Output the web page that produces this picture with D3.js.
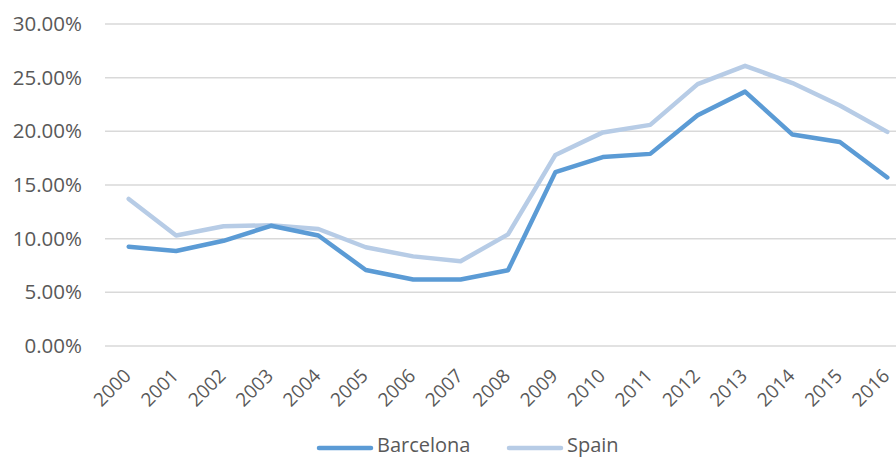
<!DOCTYPE html>
<html>
<head>
<meta charset="utf-8">
<script src="https://cdn.jsdelivr.net/npm/d3@7"></script>
<style>
body { margin: 0; background: #fff; }
text { font-family: "Open Sans", "Liberation Sans", sans-serif; fill: #595959; }
</style>
</head>
<body>
<svg id="container" width="896" height="458"></svg>
<script>
var years = ["2000","2001","2002","2003","2004","2005","2006","2007","2008",
             "2009","2010","2011","2012","2013","2014","2015","2016"];
var barcelona = [9.25, 8.85, 9.8, 11.2, 10.3, 7.08, 6.2, 6.2, 7.05,
                 16.2, 17.6, 17.9, 21.5, 23.7, 19.7, 19.0, 15.7];
var spain = [13.7, 10.3, 11.15, 11.25, 10.9, 9.2, 8.35, 7.9, 10.4,
             17.8, 19.9, 20.6, 24.4, 26.1, 24.5, 22.4, 19.95];
var yTicks = [0, 5, 10, 15, 20, 25, 30];
var seriesNames = ["Barcelona", "Spain"];
var seriesColors = ["#5B9BD5", "#B7CCE6"];

const svg = d3.select('#container');

// plot area
const plotLeft = 105, plotRight = 911, plotTop = 24, plotBottom = 346;

const x = d3.scalePoint().domain(years).range([plotLeft, plotRight]).padding(0.5);
const y = d3.scaleLinear().domain([0, 30]).range([plotBottom, plotTop]);

// gridlines
const grid = svg.append("g");
grid.selectAll("line").data(yTicks).join("line")
    .attr("x1", plotLeft).attr("x2", 896)
    .attr("y1", d => y(d)).attr("y2", d => y(d))
    .attr("stroke", "#d9d9d9").attr("stroke-width", 1.5);

// y axis labels
const yAxis = svg.append("g")
    .attr("transform", "translate(82,0)")
    .call(d3.axisLeft(y).tickValues(yTicks).tickSize(0).tickPadding(0)
        .tickFormat(d => d.toFixed(2) + "%"));
yAxis.select(".domain").remove();
yAxis.selectAll("text").attr("font-size", 20.5).attr("font-family", null);

// x axis labels, rotated
const xAxis = svg.append("g")
    .attr("transform", "translate(0," + plotBottom + ")")
    .call(d3.axisBottom(x).tickSize(0).tickPadding(0));
xAxis.select(".domain").remove();
xAxis.selectAll("text")
    .attr("font-size", 19)
    .attr("font-family", null)
    .attr("text-anchor", "end")
    .attr("dy", 0)
    .attr("transform", "translate(3,31) rotate(-45)");

// lines
const line = d3.line().x((d, i) => x(years[i])).y(d => y(d));
svg.append("path").datum(spain)
    .attr("fill", "none").attr("stroke", seriesColors[1])
    .attr("stroke-width", 4.5).attr("stroke-linejoin", "round").attr("stroke-linecap", "round")
    .attr("d", line);
svg.append("path").datum(barcelona)
    .attr("fill", "none").attr("stroke", seriesColors[0])
    .attr("stroke-width", 4.5).attr("stroke-linejoin", "round").attr("stroke-linecap", "round")
    .attr("d", line);

// legend
const legendX = [318, 508];
const legend = svg.append("g").selectAll("g").data(seriesNames).join("g")
    .attr("transform", (d, i) => "translate(" + legendX[i] + ",448)");
legend.append("line")
    .attr("x1", 1).attr("x2", 53).attr("y1", 0).attr("y2", 0)
    .attr("stroke", (d, i) => seriesColors[i])
    .attr("stroke-width", 4.5).attr("stroke-linecap", "round");
legend.append("text")
    .attr("x", 59).attr("y", 4)
    .attr("font-size", 20)
    .text(d => d);
</script>
</body>
</html>
